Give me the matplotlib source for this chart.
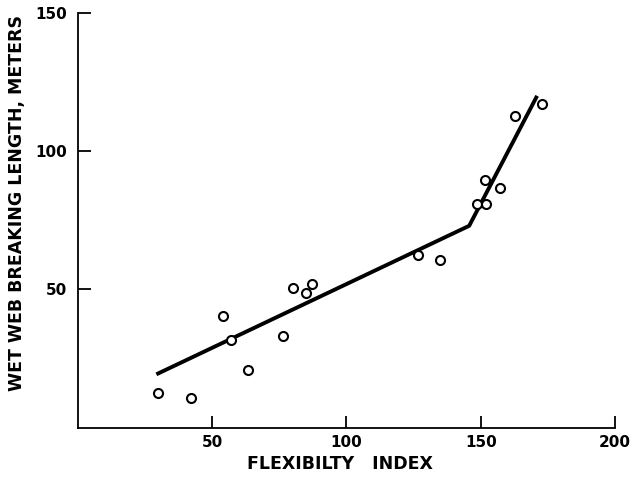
import numpy as np
import matplotlib.pyplot as plt

# measured points (flexibility index vs wet web breaking length)
flex_index = [29.8, 42.1, 54.0, 57.0, 63.3, 76.3, 80.1, 84.9, 87.2,
              126.6, 134.8, 148.6, 152.0, 151.6, 157.2, 162.8, 172.8]
breaking_len = [12.5, 10.6, 40.3, 31.6, 20.8, 33.0, 50.4, 48.6, 51.8,
                62.6, 60.5, 81.0, 81.0, 89.4, 86.8, 112.8, 117.1]

# fitted two-segment line
fit_x = [29.2, 145.7, 171.0]
fit_y = [19.3, 73.0, 120.0]

x_ticks = [50, 100, 150, 200]
y_ticks = [50, 100, 150]

fig = plt.figure(figsize=(6.34, 4.95), dpi=100)
ax = fig.add_axes([0.123, 0.136, 0.847, 0.838])

ax.plot(fit_x, fit_y, color='black', lw=2.8, solid_capstyle='butt', zorder=2)
ax.plot(flex_index, breaking_len, 'o', ms=6.5, mfc='white', mec='black',
        mew=1.5, zorder=3)

ax.set_xlim(0, 200)
ax.set_ylim(0, 150)
ax.set_xticks(x_ticks)
ax.set_yticks(y_ticks)
for s in ['top', 'right']:
    ax.spines[s].set_visible(False)
for s in ['left', 'bottom']:
    ax.spines[s].set_linewidth(1.3)

ax.tick_params(direction='in', length=9, width=1.3, labelsize=11)
ax.tick_params(axis='x', pad=5)
ax.tick_params(axis='y', pad=8)
for lab in ax.get_xticklabels() + ax.get_yticklabels():
    lab.set_fontweight('bold')

ax.set_xlabel('FLEXIBILTY   INDEX', fontsize=12.5, fontweight='bold')
ax.set_ylabel('WET WEB BREAKING LENGTH, METERS', fontsize=12.5,
              fontweight='bold')
ax.xaxis.set_label_coords(0.488, -0.066)
ax.yaxis.set_label_coords(-0.097, 0.541)

fig.savefig('out.png', dpi=100)
